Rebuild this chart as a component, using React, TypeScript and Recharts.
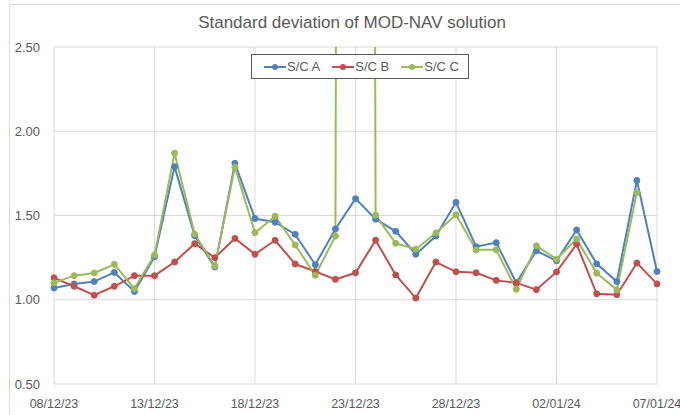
import React from 'react';
import { LineChart, Line, XAxis, YAxis, CartesianGrid } from 'recharts';

const dates = [
  '08/12/23', '09/12/23', '10/12/23', '11/12/23', '12/12/23', '13/12/23', '14/12/23', '15/12/23',
  '16/12/23', '17/12/23', '18/12/23', '19/12/23', '20/12/23', '21/12/23', '22/12/23', '23/12/23',
  '24/12/23', '25/12/23', '26/12/23', '27/12/23', '28/12/23', '29/12/23', '30/12/23', '31/12/23',
  '01/01/24', '02/01/24', '03/01/24', '04/01/24', '05/01/24', '06/01/24', '07/01/24',
];

const scA = [
  1.07, 1.094, 1.108, 1.162, 1.049, 1.255, 1.79, 1.38, 1.194, 1.81, 1.482, 1.46, 1.388, 1.208, 1.42, 1.6,
  1.478, 1.406, 1.27, 1.378, 1.578, 1.315, 1.339, 1.1, 1.29, 1.231, 1.414, 1.213, 1.108, 1.708, 1.168,
];
const scB = [
  1.13, 1.08, 1.027, 1.08, 1.143, 1.143, 1.224, 1.333, 1.25, 1.364, 1.27, 1.353, 1.212, 1.168, 1.121, 1.16,
  1.353, 1.147, 1.01, 1.224, 1.166, 1.16, 1.115, 1.1, 1.06, 1.165, 1.33, 1.035, 1.03, 1.218, 1.094,
];
const scC: (number | null)[] = [
  1.1, 1.143, 1.159, 1.21, 1.066, 1.265, 1.87, 1.39, 1.2, 1.786, 1.398, 1.496, 1.325, 1.145, 1.378, 45,
  1.502, 1.335, 1.3, 1.396, 1.504, 1.296, 1.296, 1.062, 1.32, 1.241, 1.36, 1.157, 1.06, 1.637, null,
];

const yTicks = [0.5, 1.0, 1.5, 2.0, 2.5];
const seriesNames = ['S/C A', 'S/C B', 'S/C C'];
const seriesColors = ['#4F81BD', '#C0504D', '#9BBB59'];
const title = 'Standard deviation of MOD-NAV solution';

const data = dates.map((d, i) => ({ date: d, a: scA[i], b: scB[i], c: scC[i] }));
const keys = ['a', 'b', 'c'];

const FONT = '"Liberation Sans", Arial, sans-serif';
const TEXT = '#595959';

export default function App() {
  return (
    <div
      style={{
        position: 'absolute',
        left: 0,
        top: 0,
        width: 680,
        height: 415,
        overflow: 'hidden',
        background: '#fff',
        fontFamily: FONT,
      }}
    >
      <div
        style={{
          position: 'absolute',
          left: 9,
          top: 4,
          width: 720,
          height: 480,
          border: '1px solid #d9d9d9',
        }}
      />
      <div style={{ position: 'absolute', left: 0, top: 0 }}>
        <LineChart
          width={680}
          height={415}
          data={data}
          margin={{ top: 47, right: 23, left: 0, bottom: 0 }}
        >
          <CartesianGrid stroke="#d9d9d9" strokeWidth={1} />
          <XAxis
            dataKey="date"
            interval={4}
            axisLine={false}
            tickLine={false}
            tickSize={0}
            tickMargin={15}
            height={31}
            tick={{ fill: TEXT, fontSize: 12.5, fontFamily: FONT }}
          />
          <YAxis
            type="number"
            domain={[0.5, 2.5]}
            ticks={yTicks}
            allowDataOverflow
            axisLine={false}
            tickLine={false}
            tickSize={0}
            tickMargin={14}
            width={54}
            tickFormatter={(v: number) => v.toFixed(2)}
            tick={{ fill: TEXT, fontSize: 13, fontFamily: FONT }}
          />
          {keys.map((k, i) => (
            <Line
              key={k}
              type="linear"
              dataKey={k}
              name={seriesNames[i]}
              stroke={seriesColors[i]}
              strokeWidth={2}
              dot={{ r: 3, fill: seriesColors[i], stroke: seriesColors[i], strokeWidth: 1 }}
              activeDot={false}
              isAnimationActive={false}
              connectNulls={false}
            />
          ))}
        </LineChart>
      </div>
      <div
        style={{
          position: 'absolute',
          left: 52,
          top: 13,
          width: 600,
          height: 20,
          lineHeight: '20px',
          textAlign: 'center',
          fontSize: 17,
          color: TEXT,
          whiteSpace: 'nowrap',
        }}
      >
        {title}
      </div>
      <div
        style={{
          position: 'absolute',
          left: 251,
          top: 54,
          width: 218,
          height: 25,
          border: '1px solid #595959',
          background: '#fff',
          display: 'flex',
          alignItems: 'center',
          paddingLeft: 12,
          boxSizing: 'border-box',
          whiteSpace: 'nowrap',
        }}
      >
        {seriesNames.map((n, i) => (
          <div
            key={n}
            style={{
              display: 'flex',
              alignItems: 'center',
              marginRight: i < seriesNames.length - 1 ? 12 : 0,
              flexShrink: 0,
              whiteSpace: 'nowrap',
            }}
          >
            <svg width={22} height={10} style={{ display: 'block', flexShrink: 0 }}>
              <line x1={0} y1={5} x2={22} y2={5} stroke={seriesColors[i]} strokeWidth={2} />
              <circle cx={11} cy={5} r={3} fill={seriesColors[i]} />
            </svg>
            <span style={{ marginLeft: 1, fontSize: 13, color: TEXT, lineHeight: '15px', whiteSpace: 'nowrap' }}>{n}</span>
          </div>
        ))}
      </div>
    </div>
  );
}
